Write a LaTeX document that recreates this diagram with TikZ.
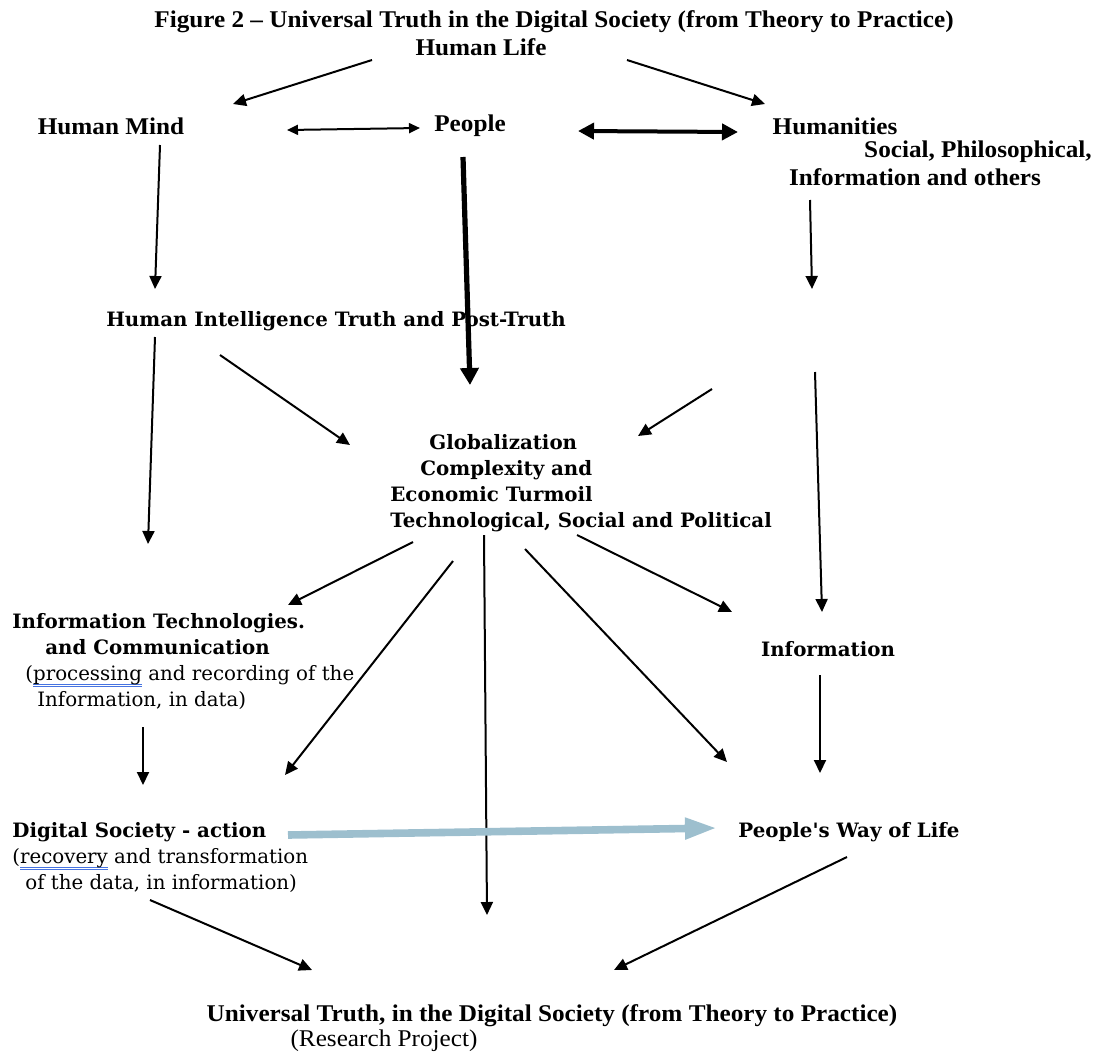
\documentclass[tikz,border=0pt]{standalone}
\usepackage{fontspec}
\setmainfont{Liberation Serif}
\newfontfamily\narrowface[FakeStretch=1.05,Ligatures=TeX]{Liberation Serif}
\newfontfamily\wideface{DejaVu Serif}
\usetikzlibrary{arrows.meta}
\definecolor{flowblue}{RGB}{157,191,206}
\definecolor{markblue}{RGB}{70,115,225}
% word processor mark under a word
\newcommand\spellmark[1]{\setbox0\hbox{#1}%
  \rlap{\color{markblue}\rule[-2.2pt]{\wd0}{0.35pt}}%
  \rlap{\color{markblue}\rule[-3.1pt]{\wd0}{0.35pt}}\box0\relax}

\begin{document}
\begin{tikzpicture}[x=0.5pt, y=-0.5pt,
  top/.style={font=\narrowface\bfseries\fontsize{12}{13}\selectfont, inner sep=0},
  mid/.style={font=\wideface\bfseries\fontsize{9.9}{13}\selectfont, inner sep=0, align=left},
  arr/.style={-{Triangle[length=6.5pt,width=6pt]}, line width=1pt},
  twoway/.style={{Triangle[length=5.5pt,width=5pt]}-{Triangle[length=5.5pt,width=5pt]}, line width=1pt},
  heavy/.style={-{Triangle[length=8.5pt,width=9pt]}, line width=2.6pt}]
  \useasboundingbox (0,0) rectangle (1097,1055);

  \node[top] (title) at (554,22) {Figure 2 – Universal Truth in the Digital Society (from Theory to Practice)};
  \node[top] (life) at (481,47) {Human Life};
  \node[top] (mind) at (111,126) {Human Mind};
  \node[top] (people) at (470,126) {People};
  \node[top] (human) at (835,126) {Humanities};
  \node[top] (social) at (978,152) {Social, Philosophical,};
  \node[top] (others) at (915,177) {Information and others};

  \node[mid] (intel) at (336,321) {Human Intelligence Truth and Post-Truth};
  \node[mid, anchor=north west] (glob) at (390,434) {\hspace*{19.5pt}Globalization\\
    \hspace*{15pt}Complexity and\\Economic Turmoil\\Technological, Social and Political};
  \node[mid, anchor=north west] (ict) at (12,613) {Information Technologies.\\
    \hspace*{16.5pt}and Communication\\
    \hspace*{6.5pt}\mdseries(\spellmark{processing} and recording of the\\
    \hspace*{12.5pt}\mdseries Information, in data)};
  \node[mid] (info) at (828,649) {Information};
  \node[mid, anchor=north west] (digital) at (12,822) {Digital Society - action\\
    \mdseries(\spellmark{recovery} and transformation\\
    \hspace*{6.5pt}\mdseries of the data, in information)};
  \node[mid] (way) at (849,832) {People's Way of Life};

  \node[top] (truth) at (552,1016) {Universal Truth, in the Digital Society (from Theory to Practice)};
  \node[top, font=\narrowface\fontsize{12}{13}\selectfont] (project) at (384,1041) {(Research Project)};

  % arrow ends
  \foreach \n/\p in {a1/{372,60}, a2/{233,104}, b1/{627,60}, b2/{765,104},
      c1/{287,130}, c2/{420,128}, d1/{578,131}, d2/{738,132},
      e1/{463,157}, e2/{470,385}, f1/{160,145}, f2/{155,289},
      g1/{810,200}, g2/{812,289}, h1/{155,337}, h2/{148,544},
      i1/{220,355}, i2/{350,445}, j1/{712,389}, j2/{638,436},
      k1/{815,372}, k2/{822,612}, l1/{413,542}, l2/{288,605},
      m1/{453,561}, m2/{285,775}, n1/{484,535}, n2/{487,915},
      o1/{525,549}, o2/{727,762}, p1/{577,535}, p2/{732,612},
      q1/{143,727}, q2/{143,785}, r1/{820,675}, r2/{820,773},
      s1/{288,835}, s2/{717,828}, t1/{150,900}, t2/{312,970},
      u1/{847,857}, u2/{614,970}}
    \coordinate (\n) at (\p);

  \draw[arr] (a1) -- (a2);
  \draw[arr] (b1) -- (b2);
  \draw[twoway] (c1) -- (c2);
  \draw[{Triangle[length=8pt,width=8pt]}-{Triangle[length=8pt,width=8pt]}, line width=2pt] (d1) -- (d2);
  \draw[heavy] (e1) -- (e2);
  \draw[arr] (f1) -- (f2);
  \draw[arr] (g1) -- (g2);
  \draw[arr] (h1) -- (h2);
  \draw[arr] (i1) -- (i2);
  \draw[arr] (j1) -- (j2);
  \draw[arr] (k1) -- (k2);
  \draw[arr] (l1) -- (l2);
  \draw[arr] (m1) -- (m2);
  \draw[arr] (n1) -- (n2);
  \draw[arr] (o1) -- (o2);
  \draw[arr] (p1) -- (p2);
  \draw[arr] (q1) -- (q2);
  \draw[arr] (r1) -- (r2);
  \draw[flowblue, line width=3.8pt, -{Triangle[length=16pt,width=10pt]}] (s1) -- (s2);
  \draw[arr] (t1) -- (t2);
  \draw[arr] (u1) -- (u2);
\end{tikzpicture}
\end{document}
